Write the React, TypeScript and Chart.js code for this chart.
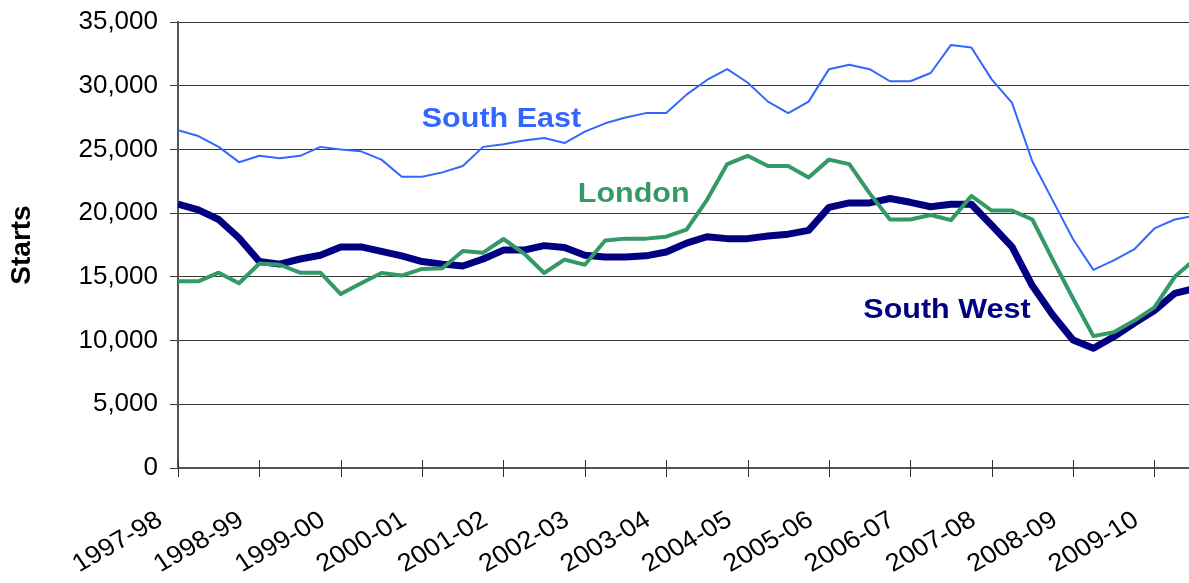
import React, { useEffect, useRef } from "react";
import { Chart, registerables } from "chart.js";

Chart.register(...registerables);

// ---- data ----
const yearLabels = [
  "1997-98", "1998-99", "1999-00", "2000-01", "2001-02", "2002-03", "2003-04",
  "2004-05", "2005-06", "2006-07", "2007-08", "2008-09", "2009-10",
];

const seriesNames = ["South East", "London", "South West"];

// quarterly starts, one value per quarter starting 1997-98 Q1
const southEast = [
  26500, 26050, 25200, 24000, 24500, 24300, 24500, 25200,
  25000, 24850, 24200, 22850, 22850, 23200, 23700, 25200,
  25400, 25700, 25900, 25500, 26400, 27050, 27500, 27850,
  27850, 29300, 30450, 31300, 30250, 28750, 27850, 28750,
  31300, 31650, 31300, 30350, 30350, 31000, 33200, 33000,
  30500, 28650, 24050, 21000, 17950, 15550, 16300, 17150,
  18800, 19500, 19800,
];

const london = [
  14650, 14650, 15330, 14500, 16050, 15950, 15330, 15330,
  13650, 14500, 15300, 15100, 15620, 15670, 17030, 16900,
  17970, 16850, 15300, 16350, 15950, 17850, 18000, 18000,
  18150, 18700, 21030, 23850, 24500, 23700, 23700, 22800,
  24200, 23850, 21550, 19500, 19500, 19850, 19450, 21350,
  20200, 20200, 19500, 16350, 13300, 10350, 10650, 11550,
  12600, 15000, 16400,
];

const southWest = [
  20700, 20250, 19500, 18050, 16200, 16000, 16400, 16700,
  17350, 17350, 17000, 16650, 16200, 16000, 15850, 16400,
  17100, 17100, 17450, 17300, 16700, 16550, 16550, 16650,
  16950, 17650, 18150, 18000, 18000, 18200, 18350, 18650,
  20450, 20800, 20800, 21150, 20850, 20500, 20700, 20700,
  19050, 17350, 14300, 12000, 10050, 9400, 10300, 11350,
  12350, 13700, 14100,
];

const yTicks = [0, 5000, 10000, 15000, 20000, 25000, 30000, 35000];

// ---- styling / annotation config ----
const FONT = "'Liberation Sans', Arial, Helvetica, sans-serif";
const colors = ["#3366FF", "#339966", "#000080"];
const widths = [2, 4, 7];
// label anchors in data units (quarter index, starts)
const labelAnchorX = [15.9, 22.4, 37.8];
const labelAnchorY = [27400, 21500, 12350];

const QUARTERS_PER_YEAR = 4;
const X_MAX = 49.7;
const TEXT_STRETCH = 1.09;
const LABEL_ROTATION_DEG = 32;

export default function App() {
  const ref = useRef<HTMLCanvasElement | null>(null);

  useEffect(() => {
    const canvas = ref.current;
    if (!canvas) return;

    const toPoints = (arr: number[]) => arr.map((v, i) => ({ x: i, y: v }));
    const tickValues = yearLabels.map((_, i) => i * QUARTERS_PER_YEAR);

    const overlay = {
      id: "overlay",
      afterDraw(chart: any) {
        const { ctx, chartArea, scales } = chart;
        const xs = scales.x;
        const ys = scales.y;
        ctx.save();
        // x tick marks crossing the axis
        ctx.strokeStyle = "#333333";
        ctx.lineWidth = 1;
        tickValues.forEach((v) => {
          const px = Math.round(xs.getPixelForValue(v)) + 0.5;
          ctx.beginPath();
          ctx.moveTo(px, chartArea.bottom - 8);
          ctx.lineTo(px, chartArea.bottom + 9);
          ctx.stroke();
        });
        // rotated year labels
        ctx.fillStyle = "#000000";
        ctx.font = `25px ${FONT}`;
        ctx.textAlign = "right";
        ctx.textBaseline = "alphabetic";
        tickValues.forEach((v, i) => {
          const px = xs.getPixelForValue(v);
          ctx.save();
          ctx.translate(px - 14, chartArea.bottom + 56);
          ctx.scale(TEXT_STRETCH, 1);
          ctx.rotate((-LABEL_ROTATION_DEG * Math.PI) / 180);
          ctx.fillText(yearLabels[i], 0, 0);
          ctx.restore();
        });
        // series labels
        ctx.font = `bold 28px ${FONT}`;
        ctx.textAlign = "center";
        ctx.textBaseline = "middle";
        seriesNames.forEach((name, i) => {
          ctx.save();
          ctx.translate(
            xs.getPixelForValue(labelAnchorX[i]),
            ys.getPixelForValue(labelAnchorY[i])
          );
          ctx.scale(TEXT_STRETCH, 1);
          ctx.fillStyle = colors[i];
          ctx.fillText(name, 0, 0);
          ctx.restore();
        });
        ctx.restore();
      },
    };

    const chart = new Chart(canvas, {
      type: "line",
      data: {
        datasets: [southEast, london, southWest].map((arr, i) => ({
          label: seriesNames[i],
          data: toPoints(arr),
          borderColor: colors[i],
          backgroundColor: colors[i],
          borderWidth: widths[i],
          pointRadius: 0,
          tension: 0,
          fill: false,
          borderJoinStyle: "round" as const,
        })),
      },
      options: {
        animation: false,
        responsive: true,
        maintainAspectRatio: false,
        layout: { padding: { top: 22, right: 0, left: 0, bottom: 0 } },
        plugins: {
          legend: { display: false },
          tooltip: { enabled: false },
        },
        scales: {
          x: {
            type: "linear",
            min: 0,
            max: X_MAX,
            afterBuildTicks: (scale: any) => {
              scale.ticks = tickValues.map((v) => ({ value: v }));
            },
            afterFit: (scale: any) => {
              scale.height = 115;
              scale.paddingLeft = 0;
              scale.paddingRight = 0;
            },
            ticks: { display: false },
            grid: { display: true, drawOnChartArea: false, drawTicks: false },
            border: { display: true, color: "#555555", width: 2 },
          },
          y: {
            type: "linear",
            min: 0,
            max: 35000,
            afterBuildTicks: (scale: any) => {
              scale.ticks = yTicks.map((v) => ({ value: v }));
            },
            afterFit: (scale: any) => {
              scale.width = 178;
              scale.paddingTop = 0;
              scale.paddingBottom = 0;
            },
            ticks: {
              color: "#000000",
              font: { family: FONT, size: 26 },
              padding: 12,
              callback: (v: any) => Number(v).toLocaleString("en-US"),
            },
            grid: {
              color: "#383838",
              lineWidth: 1,
              tickLength: 8,
              drawTicks: true,
            },
            border: { display: true, color: "#555555", width: 2 },
            title: {
              display: true,
              text: "Starts",
              color: "#000000",
              font: { family: FONT, size: 28, weight: "bold" },
              padding: { top: 5, bottom: 0 },
            },
          },
        },
      },
      plugins: [overlay],
    });

    return () => chart.destroy();
  }, []);

  return (
    <div
      style={{
        position: "fixed",
        left: 0,
        top: 0,
        width: 1189,
        height: 583,
        background: "#ffffff",
      }}
    >
      <canvas ref={ref} />
    </div>
  );
}
